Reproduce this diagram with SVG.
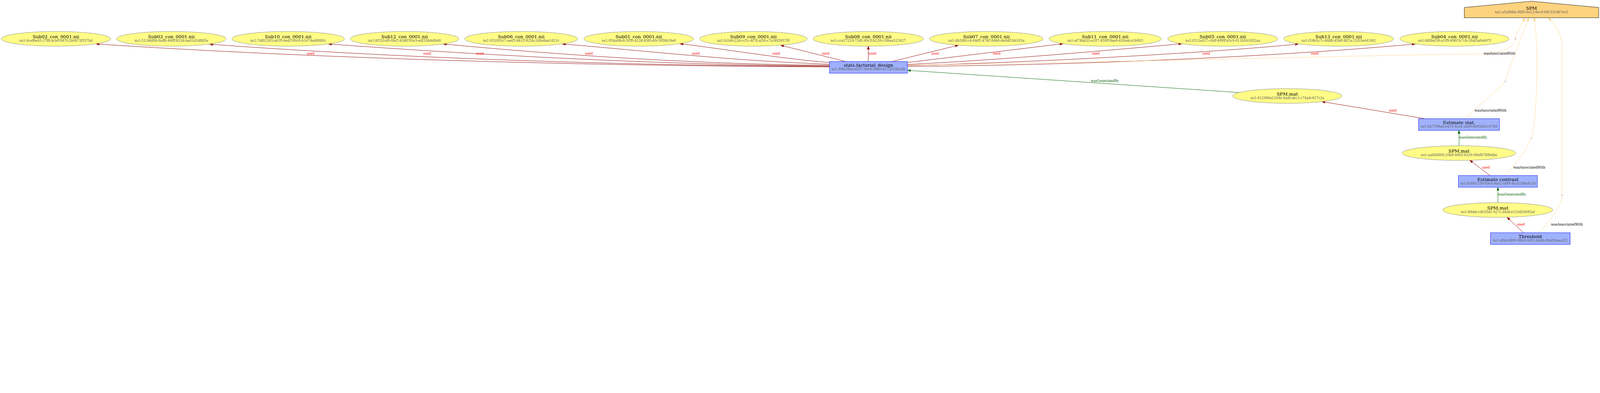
<svg xmlns="http://www.w3.org/2000/svg" width="6545" height="1007" viewBox="0 0 6545 1007" style="width:100%;height:auto" preserveAspectRatio="xMinYMin meet">
<style>
text{font-family:"DejaVu Serif","Liberation Serif",serif;text-anchor:middle}
.t{font-size:18.67px;fill:#000}
.s{font-size:13.33px;fill:#606060}
.ent{fill:#FFFC87;stroke:#808080;stroke-width:1.33}
.act{fill:#9FB1FC;stroke:#0000FF;stroke-width:1.33}
.agt{fill:#FED37F;stroke:#000;stroke-width:1.33}
.pt{fill:#C0C0C0;stroke:#C0C0C0;stroke-width:1}
.el{font-size:13.33px}
.lu{fill:#FF0000}
.lg{fill:#006400}
.la{fill:#000}
.eu{fill:none;stroke:#8B0000;stroke-width:1.5;marker-end:url(#mRed)}
.eg{fill:none;stroke:#006400;stroke-width:1.5;marker-end:url(#mGreen)}
.ea{fill:none;stroke:#FED37F;stroke-width:1.33}
.eaa{fill:none;stroke:#FED37F;stroke-width:1.33;marker-end:url(#mOrange)}
</style>
<defs>
<marker id="mRed" markerUnits="userSpaceOnUse" viewBox="0 0 14 10" markerWidth="14" markerHeight="10" refX="13.5" refY="5" orient="auto"><path d="M0,0.3 L13.5,5 L0,9.7 z" fill="#8B0000" stroke="#8B0000" stroke-width="1"/></marker>
<marker id="mGreen" markerUnits="userSpaceOnUse" viewBox="0 0 14 10" markerWidth="14" markerHeight="10" refX="13.5" refY="5" orient="auto"><path d="M0,0.3 L13.5,5 L0,9.7 z" fill="#006400" stroke="#006400" stroke-width="1"/></marker>
<marker id="mOrange" markerUnits="userSpaceOnUse" viewBox="0 0 14 10" markerWidth="14" markerHeight="10" refX="13.5" refY="5" orient="auto"><path d="M0,0.3 L13.5,5 L0,9.7 z" fill="#FED37F" stroke="#FED37F" stroke-width="1"/></marker>
</defs>
<rect x="0" y="0" width="6545" height="1007" fill="#fff"/>

<g id="connectors">
<path class="eu" d="M3393,274 C2400,270 1300,240 393,180"/>
<path class="eu" d="M3393,272 C2500,268 1600,236 857,181"/>
<path class="eu" d="M3393,270 C2700,267 1900,221 1343,180"/>
<path class="eu" d="M3393,267 C2900,265 2300,227 1813,180"/>
<path class="eu" d="M3393,263 C3000,250 2620,206 2300,180"/>
<path class="eu" d="M3393,256 C3190,240 2960,200 2781,179"/>
<path class="eu" d="M3459,252 L3193,185"/>
<path class="eu" d="M3552,252 L3552,189"/>
<path class="eu" d="M3649,252 L3921,185"/>
<path class="eu" d="M3712,256 L4349,179"/>
<path class="eu" d="M3712,264 C4050,248 4450,214 4835,179"/>
<path class="eu" d="M3712,268 C4200,258 5000,213 5312,180"/>
<path class="eu" d="M3712,272 C4500,266 5300,226 5790,180"/>
<text class="el lu" x="1271" y="224">used</text>
<text class="el lu" x="1747" y="224">used</text>
<text class="el lu" x="1963" y="224">used</text>
<text class="el lu" x="2409" y="224">used</text>
<text class="el lu" x="2846" y="224">used</text>
<text class="el lu" x="3175" y="224">used</text>
<text class="el lu" x="3377" y="224">used</text>
<text class="el lu" x="3569" y="224">used</text>
<text class="el lu" x="3825" y="224">used</text>
<text class="el lu" x="4077" y="224">used</text>
<text class="el lu" x="4482" y="224">used</text>
<text class="el lu" x="4934" y="224">used</text>
<text class="el lu" x="5378" y="224">used</text>

<path class="eu" d="M5828,486 L5407,416"/>
<text class="el lu" x="5697" y="457">used</text>
<path class="eu" d="M6095,719 L6012,656"/>
<text class="el lu" x="6079" y="691">used</text>
<path class="eu" d="M6232,953 L6165,890"/>
<text class="el lu" x="6221" y="924">used</text>

<path class="eg" d="M5070,379 L3712,288"/>
<text class="el lg" x="4519" y="335">wasGeneratedBy</text>
<path class="eg" d="M5968.5,597 L5968.5,534"/>
<text class="el lg" x="6026" y="568">wasGeneratedBy</text>
<path class="eg" d="M6127.5,830 L6127.5,767"/>
<text class="el lg" x="6185" y="801">wasGeneratedBy</text>

<path class="ea" d="M3712,267 C4700,252 5500,228 6050,221 C6150,219 6195,190 6199,161.5"/>
<path class="eaa" d="M6199,156.5 C6205,130 6226,100 6237,73"/>
<text class="el la" x="6134" y="224">wasAssociatedWith</text>
<path class="ea" d="M5994,486 L6157,335.5"/>
<path class="eaa" d="M6159,330.5 C6170,285 6232,130 6254,73"/>
<text class="el la" x="6097" y="457">wasAssociatedWith</text>
<path class="ea" d="M6155,719 C6190,690 6245,610 6263,568.5"/>
<path class="eaa" d="M6265,563.5 C6292,450 6293,160 6275,73"/>
<text class="el la" x="6256" y="691">wasAssociatedWith</text>
<path class="ea" d="M6298,953 C6340,905 6388,840 6390,802.5"/>
<path class="eaa" d="M6390,797.5 L6390,200 C6390,130 6360,100 6334,73"/>
<text class="el la" x="6410" y="924">wasAssociatedWith</text>
</g>

<g id="SPM">
<polygon class="agt" points="5990,72.7 6540,72.7 6540,30.7 6265,5 5990,30.7"/>
<text class="t" x="6265" y="39.5">SPM</text>
<text class="s" x="6265" y="54">ns1:a5a9fdfa-98f9-4e12-9ec9-09c33c407ec5</text>
</g>

<g id="Sub02"><ellipse class="ent" cx="229" cy="159" rx="223.5" ry="30"/><text class="t" x="229" y="157.3">Sub02_con_0001.nii</text><text class="s" x="229" y="171.7">ns1:4cef6e43-27fd-4cb0-887f-2b0873f337bd</text></g>
<g id="Sub03"><ellipse class="ent" cx="701" cy="159" rx="224" ry="30"/><text class="t" x="701" y="157.3">Sub03_con_0001.nii</text><text class="s" x="701" y="171.7">ns1:51346f98-0a46-440f-833d-ba01d2dffd5e</text></g>
<g id="Sub10"><ellipse class="ent" cx="1179" cy="159" rx="230" ry="30"/><text class="t" x="1179" y="157.3">Sub10_con_0001.nii</text><text class="s" x="1179" y="171.7">ns1:7df02265-a818-4ed3-90c9-b1474ed0880c</text></g>
<g id="Sub12"><ellipse class="ent" cx="1655" cy="159" rx="222" ry="30"/><text class="t" x="1655" y="157.3">Sub12_con_0001.nii</text><text class="s" x="1655" y="171.7">ns1:8f351ef9-0fe2-434b-93e3-edf33feb0b40</text></g>
<g id="Sub06"><ellipse class="ent" cx="2132" cy="159" rx="231" ry="30"/><text class="t" x="2132" y="157.3">Sub06_con_0001.nii</text><text class="s" x="2132" y="171.7">ns1:931093c7-ae63-4615-925b-2d0e8ae1612c</text></g>
<g id="Sub01"><ellipse class="ent" cx="2613" cy="159" rx="224" ry="30"/><text class="t" x="2613" y="157.3">Sub01_con_0001.nii</text><text class="s" x="2613" y="171.7">ns1:954a06c6-3f30-422e-85f0-d0c395fb19e4</text></g>
<g id="Sub09"><ellipse class="ent" cx="3082" cy="159" rx="220" ry="30"/><text class="t" x="3082" y="157.3">Sub09_con_0001.nii</text><text class="s" x="3082" y="171.7">ns1:b1b9c22d-cc1c-4f7a-af50-c7a36f3937f0</text></g>
<g id="Sub08"><ellipse class="ent" cx="3552" cy="159" rx="226" ry="30"/><text class="t" x="3552" y="157.3">Sub08_con_0001.nii</text><text class="s" x="3552" y="171.7">ns1:cce27219-73dc-49c5-b239-c3f6ea513427</text></g>
<g id="Sub07"><ellipse class="ent" cx="4035" cy="159" rx="232" ry="30"/><text class="t" x="4035" y="157.3">Sub07_con_0001.nii</text><text class="s" x="4035" y="171.7">ns1:db5061c4-84d1-478c-84b0-de0df1bb195a</text></g>
<g id="Sub11"><ellipse class="ent" cx="4521" cy="159" rx="230" ry="30"/><text class="t" x="4521" y="157.3">Sub11_con_0001.nii</text><text class="s" x="4521" y="171.7">ns1:ef74bd33-e297-4590-8ae9-430a4ca1b003</text></g>
<g id="Sub05"><ellipse class="ent" cx="5002" cy="159" rx="225" ry="30"/><text class="t" x="5002" y="157.3">Sub05_con_0001.nii</text><text class="s" x="5002" y="171.7">ns1:f213a427-c9af-4999-a5c9-011b541652aa</text></g>
<g id="Sub13"><ellipse class="ent" cx="5476" cy="159" rx="225" ry="30"/><text class="t" x="5476" y="157.3">Sub13_con_0001.nii</text><text class="s" x="5476" y="171.7">ns1:f34b5c7c-86bb-45b6-887a-21f55e441f42</text></g>
<g id="Sub04"><ellipse class="ent" cx="5950" cy="159" rx="223" ry="30"/><text class="t" x="5950" y="157.3">Sub04_con_0001.nii</text><text class="s" x="5950" y="171.7">ns1:fd09ef39-a109-496c-b7cb-39af5a0eb97f</text></g>

<g id="stats_factorial_design"><rect class="act" x="3393" y="252" width="319" height="48"/><text class="t" x="3552.5" y="274">stats.factorial_design</text><text class="s" x="3552.5" y="288.5">ns1:99fe38ea-d557-40c6-996e-6272f338e2fb</text></g>

<g id="SPM_mat_1"><ellipse class="ent" cx="5266" cy="393" rx="223" ry="30"/><text class="t" x="5266" y="391.3">SPM.mat</text><text class="s" x="5266" y="405.7">ns1:412906ef-204e-4adf-a6c3-c74adc617c2e</text></g>

<g id="Estimate_stat"><rect class="act" x="5803" y="486" width="331" height="48"/><text class="t" x="5968.5" y="508">Estimate stat.</text><text class="s" x="5968.5" y="522.5">ns1:bb7768a6-e415-4ced-a509-8b956b1c07d4</text></g>

<g id="SPM_mat_2"><ellipse class="ent" cx="5968.5" cy="627" rx="232.5" ry="30"/><text class="t" x="5968.5" y="625.3">SPM.mat</text><text class="s" x="5968.5" y="639.7">ns1:aa0b8800-20b9-4065-b329-00ef8789bdbe</text></g>

<g id="Estimate_contrast"><rect class="act" x="5966" y="719" width="323" height="48"/><text class="t" x="6127.5" y="741">Estimate contrast</text><text class="s" x="6127.5" y="755.5">ns1:b5681109-69c4-4a62-bf94-9ca5198a4c28</text></g>

<g id="SPM_mat_3"><ellipse class="ent" cx="6127" cy="860" rx="225" ry="30"/><text class="t" x="6127" y="858.3">SPM.mat</text><text class="s" x="6127" y="872.7">ns1:88ddccdf-05d1-427c-b6df-e110d20085af</text></g>

<g id="Threshold"><rect class="act" x="6097" y="953" width="326" height="48"/><text class="t" x="6260" y="975">Threshold</text><text class="s" x="6260" y="989.5">ns1:d0dcd809-98b0-4451-bb6b-f8dd5faea2f2</text></g>

<g id="bnode1"><ellipse class="pt" cx="6199" cy="159" rx="2.4" ry="2.4"/></g>
<g id="bnode2"><ellipse class="pt" cx="6158" cy="333" rx="2.4" ry="2.4"/></g>
<g id="bnode3"><ellipse class="pt" cx="6264" cy="566" rx="2.4" ry="2.4"/></g>
<g id="bnode4"><ellipse class="pt" cx="6390" cy="800" rx="2.4" ry="2.4"/></g>
</svg>
